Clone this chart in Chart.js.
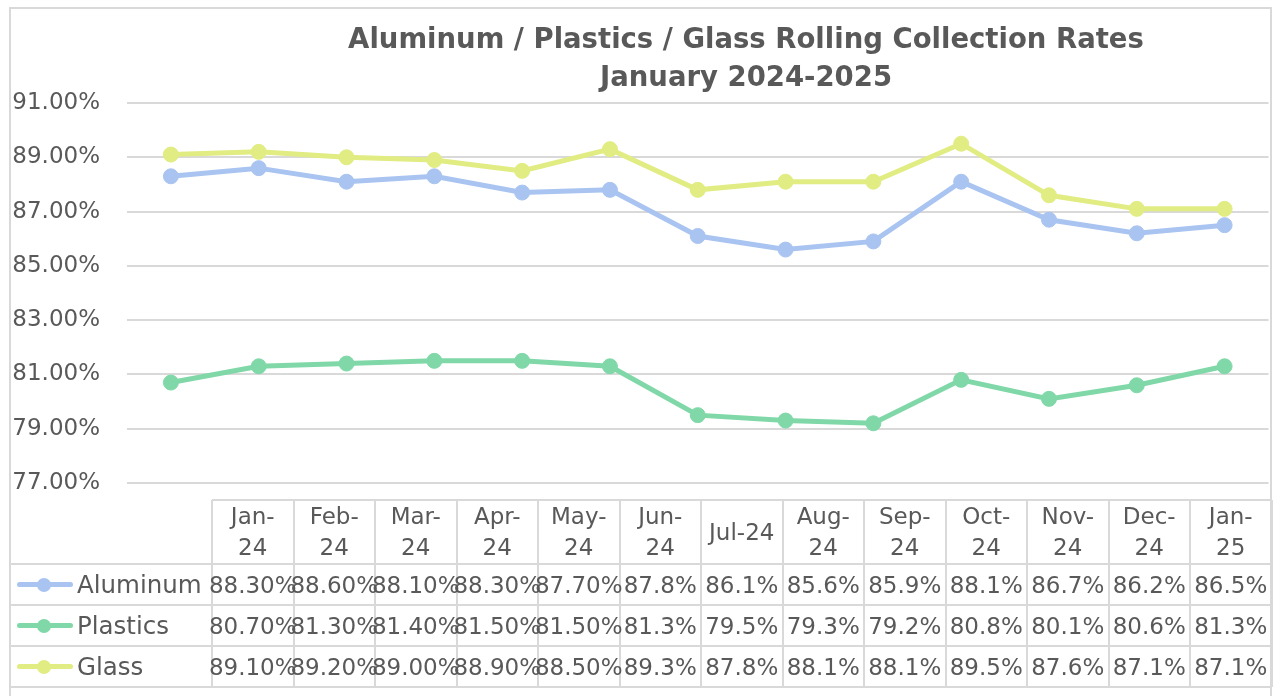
<!DOCTYPE html>
<html><head><meta charset="utf-8">
<script src="https://cdn.jsdelivr.net/npm/chart.js@4.4.1/dist/chart.umd.min.js"></script>
<style>
html,body{margin:0;padding:0;background:#fff;width:1277px;height:696px;overflow:hidden;}
#wrap{position:relative;width:1277px;height:696px;font-family:"DejaVu Sans",sans-serif;color:#595959;}
canvas{position:absolute;left:0;top:0;}
.abs{position:absolute;white-space:nowrap;}
.ln{position:absolute;background:#D9D9D9;}
</style></head><body>
<div id="wrap"><canvas id="c" width="1277" height="696"></canvas></div>
<script>
// ---- data ----
const categories = ['Jan-24','Feb-24','Mar-24','Apr-24','May-24','Jun-24','Jul-24','Aug-24','Sep-24','Oct-24','Nov-24','Dec-24','Jan-25'];
const seriesNames = ['Aluminum','Plastics','Glass'];
const aluminum = [88.3, 88.6, 88.1, 88.3, 87.7, 87.8, 86.1, 85.6, 85.9, 88.1, 86.7, 86.2, 86.5];
const plastics = [80.7, 81.3, 81.4, 81.5, 81.5, 81.3, 79.5, 79.3, 79.2, 80.8, 80.1, 80.6, 81.3];
const glass    = [89.1, 89.2, 89.0, 88.9, 88.5, 89.3, 87.8, 88.1, 88.1, 89.5, 87.6, 87.1, 87.1];
const aluminumText = ['88.30%','88.60%','88.10%','88.30%','87.70%','87.8%','86.1%','85.6%','85.9%','88.1%','86.7%','86.2%','86.5%'];
const plasticsText = ['80.70%','81.30%','81.40%','81.50%','81.50%','81.3%','79.5%','79.3%','79.2%','80.8%','80.1%','80.6%','81.3%'];
const glassText    = ['89.10%','89.20%','89.00%','88.90%','88.50%','89.3%','87.8%','88.1%','88.1%','89.5%','87.6%','87.1%','87.1%'];
const yTicks = [77, 79, 81, 83, 85, 87, 89, 91];
const titleLines = ['Aluminum / Plastics / Glass Rolling Collection Rates', 'January 2024-2025'];

// ---- styles ----
const colors = ['#A9C4F0', '#80D8A8', '#E1EC82'];
const FONT = '"DejaVu Sans", sans-serif';
const TXT = '#595959';
const wrap = document.getElementById('wrap');

function el(cls, css, text) {
  const d = document.createElement('div');
  d.className = cls;
  Object.assign(d.style, css);
  if (text !== undefined) d.textContent = text;
  wrap.appendChild(d);
  return d;
}

// outer border
el('abs', {left:'9px', top:'7px', width:'1259px', height:'720px', border:'2px solid #D9D9D9'});

// title
const t = el('abs', {left:'246px', top:'19px', width:'1000px', textAlign:'center', font:'bold 27.5px ' + FONT, lineHeight:'38px', color:TXT, whiteSpace:'normal'});
t.innerHTML = titleLines.map(s => s.replace(/&/g,'&amp;').replace(/</g,'&lt;')).join('<br>');

// chart
new Chart(document.getElementById('c'), {
  type: 'line',
  data: {
    labels: categories,
    datasets: [aluminum, plastics, glass].map((d, i) => ({
      label: seriesNames[i],
      data: d,
      borderColor: colors[i],
      backgroundColor: colors[i],
      pointBackgroundColor: colors[i],
      pointBorderColor: colors[i],
      borderWidth: 5,
      pointRadius: 7.5,
      pointBorderWidth: 1,
      tension: 0,
      order: 2 - i
    }))
  },
  options: {
    responsive: false,
    animation: false,
    devicePixelRatio: 1,
    layout: { padding: { left: 0, top: 103, right: 6, bottom: 213 } },
    plugins: { legend: { display: false }, title: { display: false }, tooltip: { enabled: false } },
    scales: {
      x: { type: 'category', offset: true, display: false },
      y: {
        min: yTicks[0], max: yTicks[yTicks.length - 1],
        afterBuildTicks: s => { s.ticks = yTicks.map(v => ({ value: v })); },
        afterFit: s => { s.width = 127; },
        border: { display: false },
        grid: { color: '#D9D9D9', lineWidth: 2, drawTicks: false },
        ticks: { color: TXT, padding: 27, font: { family: FONT, size: 23 }, callback: v => v.toFixed(2) + '%' }
      }
    }
  }
});

// ---- data table ----
const colL = 212, colW = (1271.5 - 212) / categories.length;
const rowY = [500, 564, 605, 646, 687];
const tableLeft = 10, tableRight = 1272;
// horizontal lines
el('ln', {left: colL + 'px', top: (rowY[0]-1) + 'px', width: (tableRight - colL) + 'px', height: '2px'});
for (let r = 1; r < rowY.length; r++) el('ln', {left: tableLeft + 'px', top: (rowY[r]-1) + 'px', width: (tableRight - tableLeft) + 'px', height: '2px'});
// vertical lines
for (let c = 0; c <= categories.length; c++) {
  el('ln', {left: (colL + c*colW - 1) + 'px', top: rowY[0] + 'px', width: '2px', height: (rowY[4]-rowY[0]) + 'px'});
}
// header labels
const mctx = document.createElement('canvas').getContext('2d');
mctx.font = '23px ' + FONT;
categories.forEach((lab, i) => {
  let lines = [lab];
  if (mctx.measureText(lab).width > 70) { const k = lab.indexOf('-') + 1; lines = [lab.slice(0, k), lab.slice(k)]; }
  const cx = colL + (i + 0.5) * colW;
  const h = lines.length * 31;
  const top = (rowY[0] + rowY[1]) / 2 - h / 2;
  const d = el('abs', {left: (cx - 60) + 'px', width: '120px', top: top + 'px', textAlign: 'center', font: '23px ' + FONT, lineHeight: '31px', color: TXT});
  d.innerHTML = lines.join('<br>');
});
// rows
[aluminumText, plasticsText, glassText].forEach((arr, r) => {
  const y0 = rowY[r + 1], y1 = rowY[r + 2], cy = (y0 + y1) / 2;
  // legend key
  el('abs', {left: '17px', top: (cy - 2.5) + 'px', width: '56px', height: '5px', borderRadius: '3px', background: colors[r]});
  el('abs', {left: '37px', top: (cy - 7) + 'px', width: '14px', height: '14px', borderRadius: '50%', background: colors[r]});
  el('abs', {left: '77px', top: (cy - 15) + 'px', font: '24.5px ' + FONT, lineHeight: '30px', color: TXT}, seriesNames[r]);
  arr.forEach((s, i) => {
    const cx = colL + (i + 0.5) * colW;
    el('abs', {left: (cx - 60) + 'px', width: '120px', top: (cy - 15) + 'px', textAlign: 'center', font: '23px ' + FONT, lineHeight: '30px', color: TXT}, s);
  });
});
</script>
</body></html>
